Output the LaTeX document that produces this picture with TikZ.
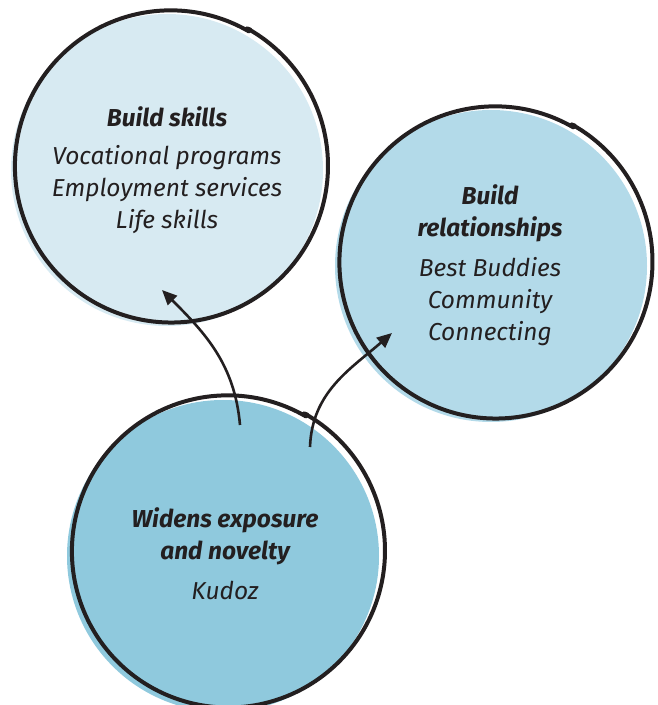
\documentclass[tikz,border=0pt]{standalone}
\usepackage{fontspec}
\setmainfont{Fira Sans}
\usetikzlibrary{arrows.meta}
\definecolor{ink}{HTML}{231F20}
\definecolor{fillA}{HTML}{D7EAF2}
\definecolor{fillB}{HTML}{B3DAE9}
\definecolor{fillC}{HTML}{8FC9DD}
\tikzset{
  outline/.style={draw=ink, line width=4pt, line cap=round},
  label/.style={align=center, text=ink, font=\fontsize{24.5}{32}\selectfont\itshape, inner sep=0pt},
  conn/.style={draw=ink, line width=2.6pt, -{Triangle[length=15pt,width=13pt]}},
}
\newcommand{\ttl}[1]{{\bfseries #1}}
\begin{document}
\begin{tikzpicture}[x=1pt,y=1pt]
\useasboundingbox (0,0) rectangle (657,705);
% fills (offset)
\fill[fillA] (167,535) circle (156);
\fill[fillB] (491,439) circle (156);
\fill[fillC] (223,149) circle (156);
% outlines (hand-drawn style, slight overlap at ~60 deg)
\foreach \cx/\cy in {171/539, 495.5/443, 228/154}{
  \draw[outline] plot[domain=60:421, samples=180, smooth]
    ({\cx+(155.5+1.8*(\x-60)/360)*cos(\x)}, {\cy+(155.5+1.8*(\x-60)/360)*sin(\x)});
  \fill[ink] ({\cx+157*cos(60)}, {\cy+157*sin(60)}) circle (2.8);
}
% texts
\node[label] (skills) at (167,535) {\ttl{Build skills}\\[6pt]Vocational programs\\Employment services\\Life skills};
\node[label] (rel) at (490,440) {\ttl{Build}\\\ttl{relationships}\\[8pt]Best Buddies\\Community\\Connecting};
\node[label] (wid) at (225,151) {\ttl{Widens exposure}\\\ttl{and novelty}\\[8pt]Kudoz};
% connector ends
\coordinate (a1s) at (240,280);
\coordinate (a1e) at (162,415);
\coordinate (a2s) at (310,258);
\coordinate (a2e) at (392,372);
\draw[conn] (a1s) to[out=95,in=-45] (a1e);
\draw[conn] (a2s) to[out=88,in=221] (a2e);
\end{tikzpicture}
\end{document}
